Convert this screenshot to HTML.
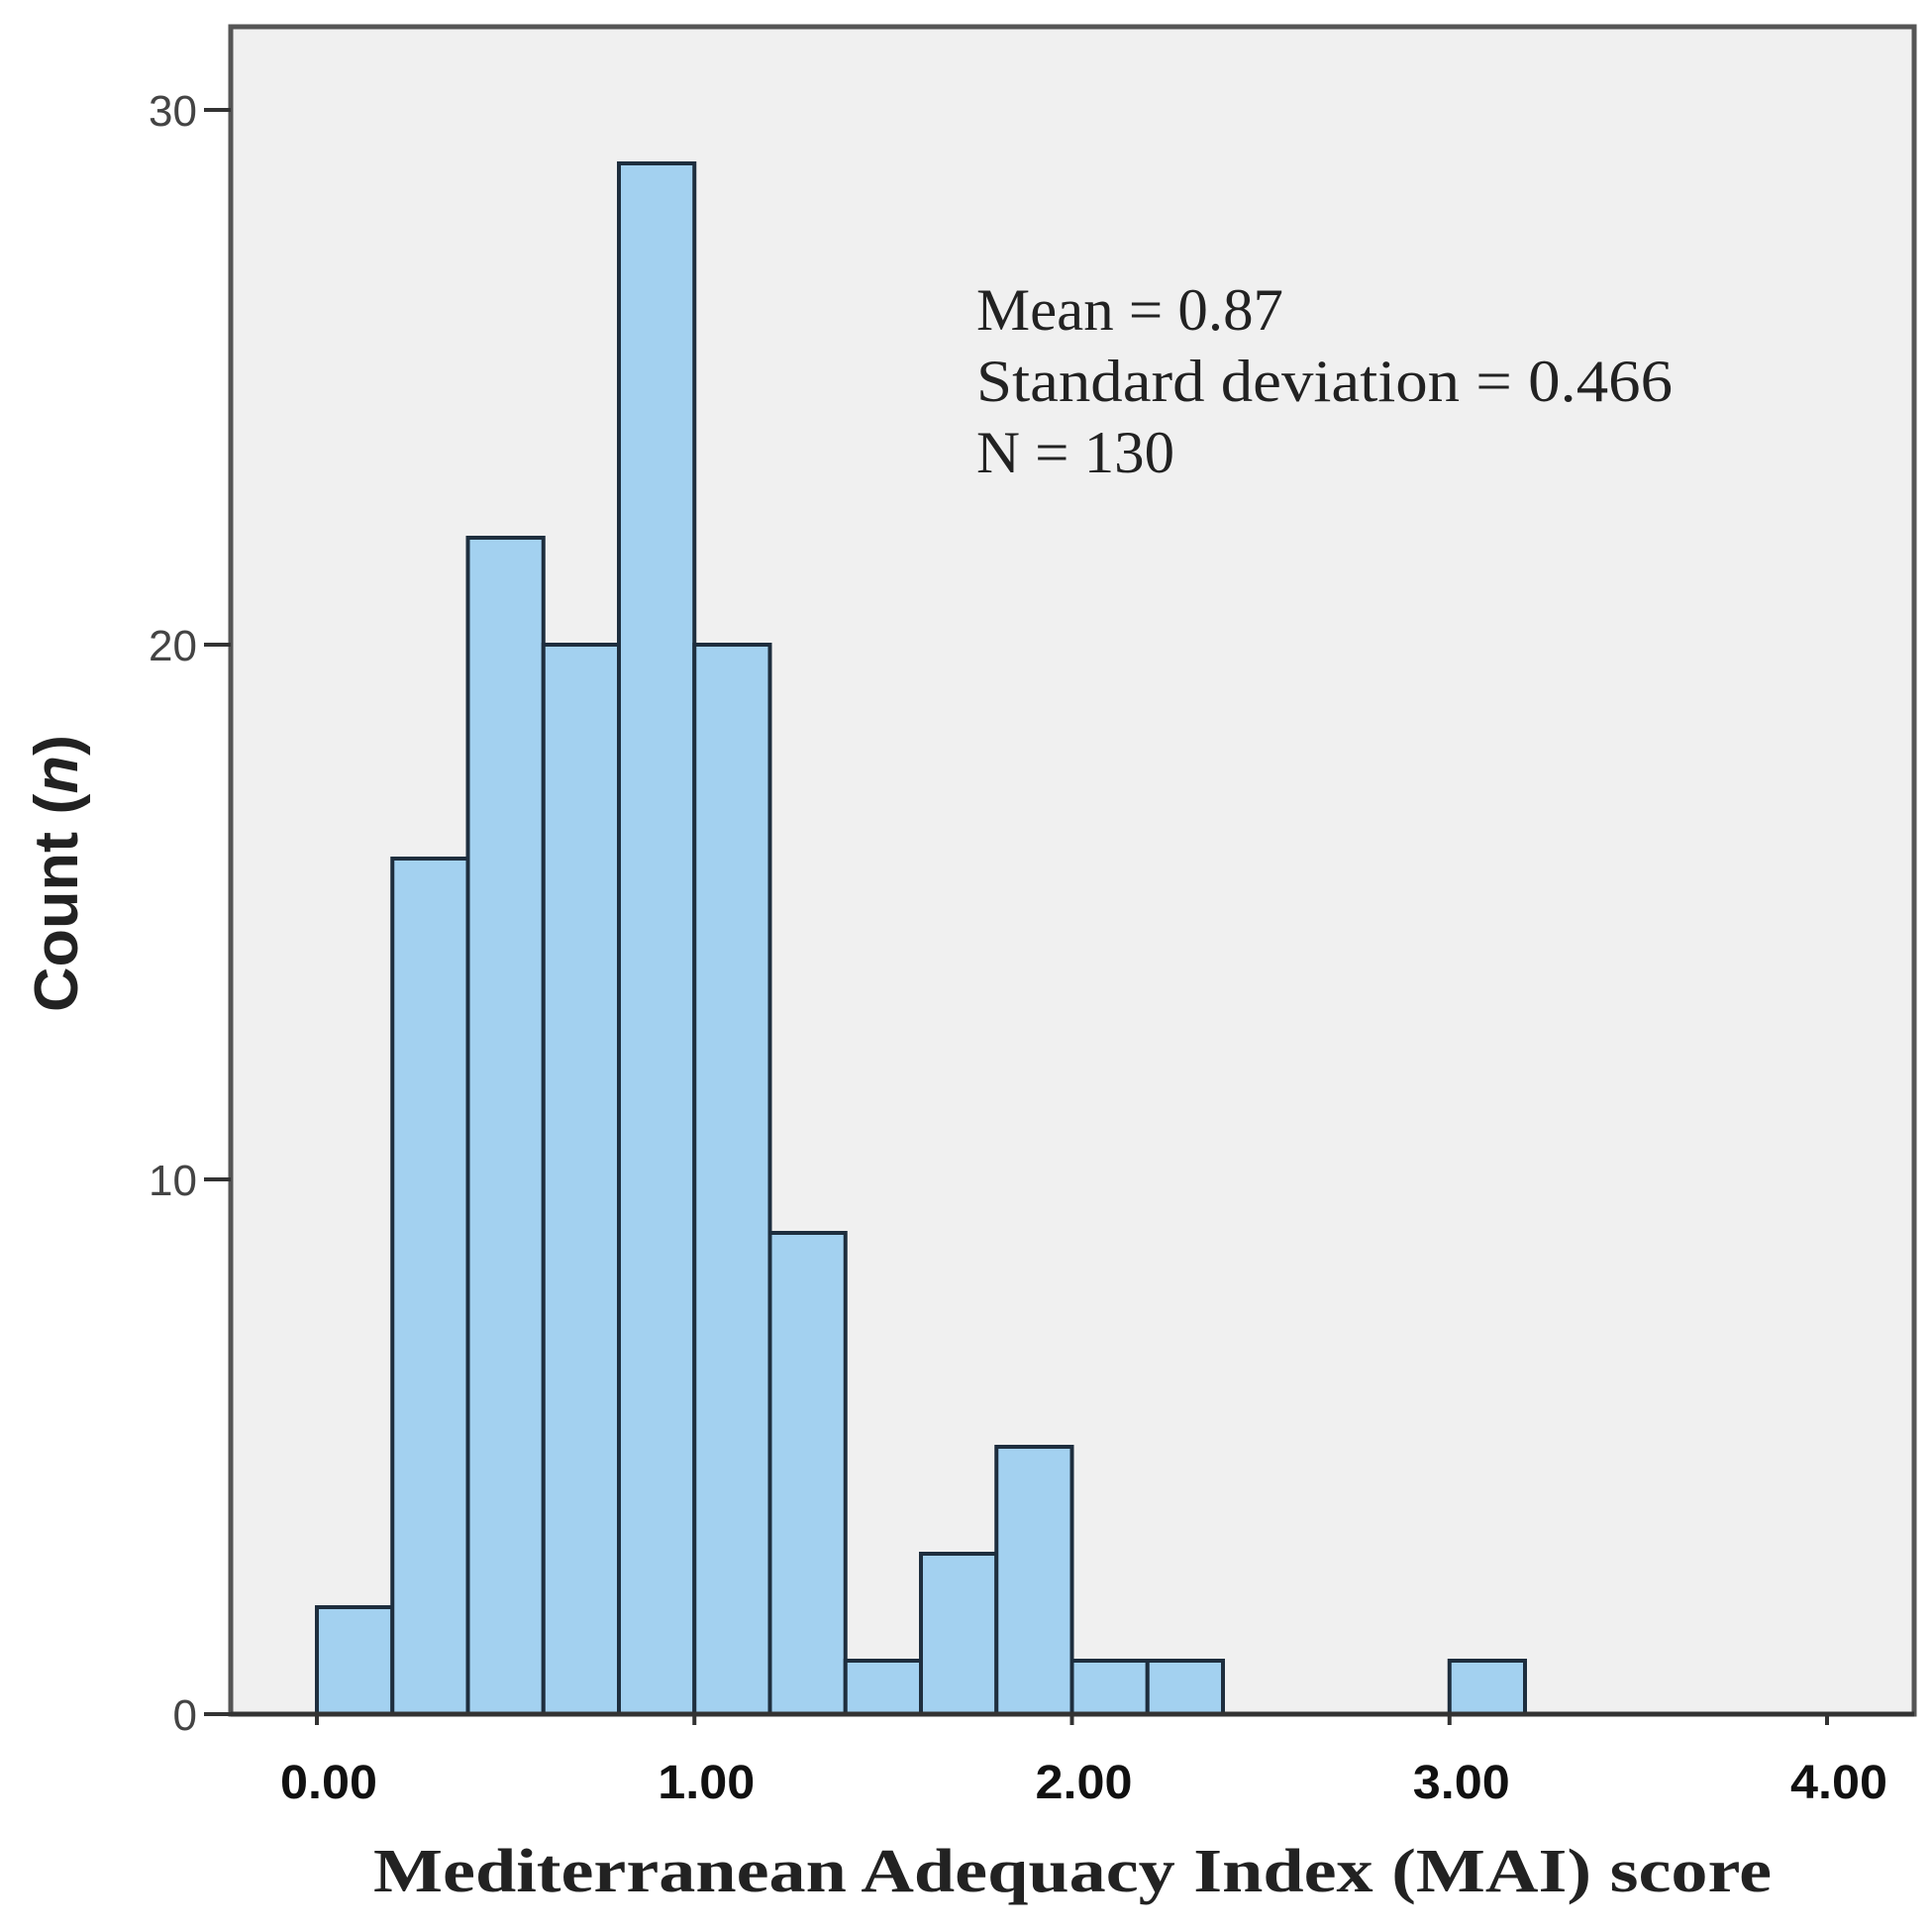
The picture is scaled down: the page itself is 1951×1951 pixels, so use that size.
<!DOCTYPE html>
<html><head><meta charset="utf-8"><style>
html,body{margin:0;padding:0;background:#fff;width:1951px;height:1951px;overflow:hidden}
svg{display:block}
</style></head><body>
<svg id="chart" width="1951" height="1951" viewBox="0 0 1951 1951" xmlns="http://www.w3.org/2000/svg">
<rect x="233" y="27" width="1700" height="1704" fill="#f0f0f0" stroke="#555" stroke-width="5"/>
<g id="bars"></g>
<g id="axes"></g>
<text x="986" y="333" font-family="Liberation Serif, serif" font-size="60" fill="#222" textLength="310" lengthAdjust="spacingAndGlyphs">Mean = 0.87</text>
<text x="986" y="405" font-family="Liberation Serif, serif" font-size="60" fill="#222" textLength="703" lengthAdjust="spacingAndGlyphs">Standard deviation = 0.466</text>
<text x="986" y="477" font-family="Liberation Serif, serif" font-size="60" fill="#222" textLength="200" lengthAdjust="spacingAndGlyphs">N = 130</text>
<text x="1083" y="1910" text-anchor="middle" font-family="Liberation Serif, serif" font-weight="bold" font-size="62" fill="#222" textLength="1412" lengthAdjust="spacingAndGlyphs">Mediterranean Adequacy Index (MAI) score</text>
<text transform="translate(78,882) rotate(-90)" text-anchor="middle" font-family="Liberation Sans, sans-serif" font-weight="bold" font-size="62" fill="#222" textLength="280" lengthAdjust="spacingAndGlyphs">Count (<tspan font-style="italic">n</tspan>)</text>
</svg>
<script>
const binStarts = [0,0.2,0.4,0.6,0.8,1.0,1.2,1.4,1.6,1.8,2.0,2.2,2.4,2.6,2.8,3.0];
const counts = [2,16,22,20,29,20,9,1,3,5,1,1,0,0,0,1];
const binWidth = 0.2;
const xTicks = [0,1,2,3,4];
const xTickLabels = ["0.00","1.00","2.00","3.00","4.00"];
const yTicks = [0,10,20,30];
const yTickLabels = ["0","10","20","30"];

const NS = "http://www.w3.org/2000/svg";
const x = v => 320 + v * 381.25;
const y = v => 1731 - v * 54;
const bars = document.getElementById('bars');
const axes = document.getElementById('axes');

binStarts.forEach((b, i) => {
  if (!counts[i]) return;
  const r = document.createElementNS(NS, 'rect');
  
  
  r.setAttribute('x', x(b));
  r.setAttribute('y', y(counts[i]));
  r.setAttribute('width', x(b + binWidth) - x(b));
  r.setAttribute('height', y(0) - y(counts[i]));
  r.setAttribute('fill', '#a3d1f0');
  r.setAttribute('stroke', '#1e2e3e');
  r.setAttribute('stroke-width', '4');
  bars.appendChild(r);
});

const base = document.createElementNS(NS, 'line');


base.setAttribute('x1', 233); base.setAttribute('x2', 1933);
base.setAttribute('y1', 1731); base.setAttribute('y2', 1731);
base.setAttribute('stroke', '#333'); base.setAttribute('stroke-width', '5');
axes.appendChild(base);

xTicks.forEach((t, i) => {
  const l = document.createElementNS(NS, 'line');
  
  
  l.setAttribute('x1', x(t)); l.setAttribute('x2', x(t));
  l.setAttribute('y1', 1731); l.setAttribute('y2', 1742);
  l.setAttribute('stroke', '#333'); l.setAttribute('stroke-width', '4');
  axes.appendChild(l);
  const tx = document.createElementNS(NS, 'text');
  
  
  tx.setAttribute('x', x(t) + 12); tx.setAttribute('y', 1816);
  tx.setAttribute('text-anchor', 'middle');
  tx.setAttribute('font-family', 'Liberation Sans, sans-serif');
  tx.setAttribute('font-weight', 'bold');
  tx.setAttribute('font-size', '48');
  tx.setAttribute('fill', '#111');
  tx.setAttribute('textLength', '98');
  tx.setAttribute('lengthAdjust', 'spacingAndGlyphs');
  tx.textContent = xTickLabels[i];
  axes.appendChild(tx);
});

yTicks.forEach((t, i) => {
  const l = document.createElementNS(NS, 'line');
  
  
  l.setAttribute('x1', 206); l.setAttribute('x2', 233);
  l.setAttribute('y1', y(t)); l.setAttribute('y2', y(t));
  l.setAttribute('stroke', '#333'); l.setAttribute('stroke-width', '4');
  axes.appendChild(l);
  const tx = document.createElementNS(NS, 'text');
  
  
  tx.setAttribute('x', 199); tx.setAttribute('y', y(t) + 16);
  tx.setAttribute('text-anchor', 'end');
  tx.setAttribute('font-family', 'Liberation Sans, sans-serif');
  tx.setAttribute('font-size', '44');
  tx.setAttribute('fill', '#444');
  tx.textContent = yTickLabels[i];
  axes.appendChild(tx);
});
</script>
</body></html>
